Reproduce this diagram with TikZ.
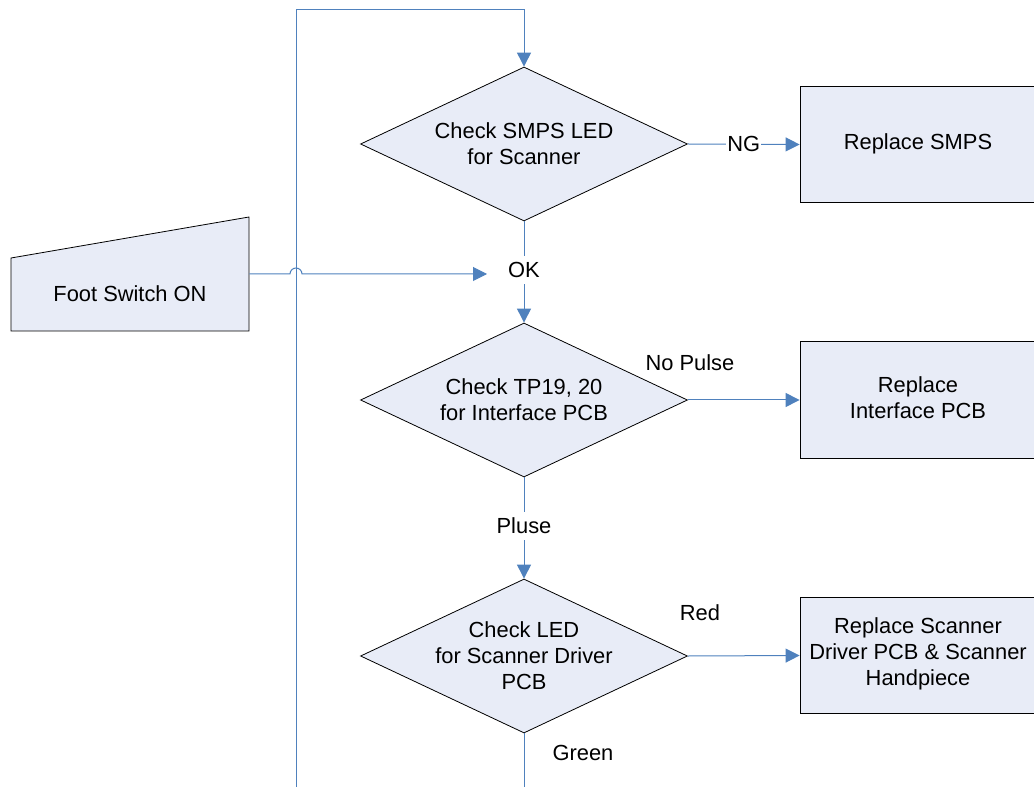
\documentclass[tikz,border=0pt]{standalone}
\usepackage{fontspec}
\setmainfont{Liberation Sans}
\usetikzlibrary{shapes.geometric,arrows.meta}
\definecolor{boxfill}{RGB}{232,236,247}
\definecolor{linkblue}{RGB}{79,129,189}
\begin{document}
\begin{tikzpicture}[x=0.75pt,y=-0.75pt,
  font=\fontsize{16.4}{19.5}\selectfont,
  dia/.style={shape=diamond,draw=black,fill=boxfill,line width=0.6pt,inner sep=0pt,
              minimum width=245.25pt,minimum height=115.5pt},
  act/.style={rectangle,draw=black,fill=boxfill,line width=0.6pt,
              minimum width=177pt,minimum height=87.5pt,align=center},
  txt/.style={align=center,inner sep=0pt},
  lbl/.style={inner sep=4.5pt},
  link/.style={draw=linkblue,line width=0.75pt},
  tip/.style={link,-{Triangle[length=10.5pt,width=10.5pt]}}]
\useasboundingbox (0,0) rectangle (1034,787);

% manual input: Foot Switch ON
\node[inner sep=0pt,minimum width=178.5pt,minimum height=85.5pt] (foot) at (130,274) {};
\filldraw[fill=boxfill,draw=black,line width=0.6pt]
  (11,258) -- (249,217) -- (249,331) -- (11,331) -- cycle;
\node[txt] (foottxt) at (130,294) {Foot Switch ON};

% decisions
\node[dia] (d1) at (524,144) {};
\node[txt] (d1t) at (d1) {Check SMPS LED\\for Scanner};
\node[dia] (d2) at (524,400) {};
\node[txt] (d2t) at (d2) {Check TP19, 20\\for Interface PCB};
\node[dia] (d3) at (524,656) {};
\node[txt] (d3t) at (d3) {Check LED\\for Scanner Driver\\PCB};

% actions
\node[act] (a1) at (918,144.5) {};
\node[txt] (a1t) at (918,144) {Replace SMPS};
\node[act] (a2) at (918,400) {};
\node[txt] (a2t) at (918,398) {Replace\\Interface PCB};
\node[act] (a3) at (918,655.5) {};
\node[txt] (a3t) at (918,654) {Replace Scanner\\Driver PCB \& Scanner\\Handpiece};

% branch labels
\node[lbl] (ok) at (524,270) {OK};
\node[lbl] (pluse) at (524,526) {Pluse};
\node[lbl] (nopulse) at (690,363) {No Pulse};
\node[lbl] (red) at (700,613) {Red};
\node[lbl] (green) at (583,753) {Green};

% free ends
\coordinate (okin) at (487,274);
\coordinate (loopbot) at (296,787);
\coordinate (loopTL) at (296,10);
\coordinate (loopTR) at (524,10);
\coordinate (d3out) at (524,787);

% connectors
\draw[tip] (d1.east) -- (a1.west)
  node[midway,fill=white,inner sep=1pt] (ng) {NG};
\draw[tip] (d2.east) -- (a2.west);
\draw[tip] (d3.east) -- (a3.west);
\draw[link] (d1.south) -- (ok.north);
\draw[tip] (ok.south) -- (d2.north);
\draw[link] (d2.south) -- (pluse.north);
\draw[tip] (pluse.south) -- (d3.north);
\draw[link] (d3.south) -- (d3out);
\draw[tip] (loopbot) -- (loopTL) -- (loopTR) -- (d1.north);
% line hop over the return line
\draw[tip] (foot.east) -- (290,274) arc[start angle=180,end angle=360,radius=6] -- (okin);
\end{tikzpicture}
\end{document}
